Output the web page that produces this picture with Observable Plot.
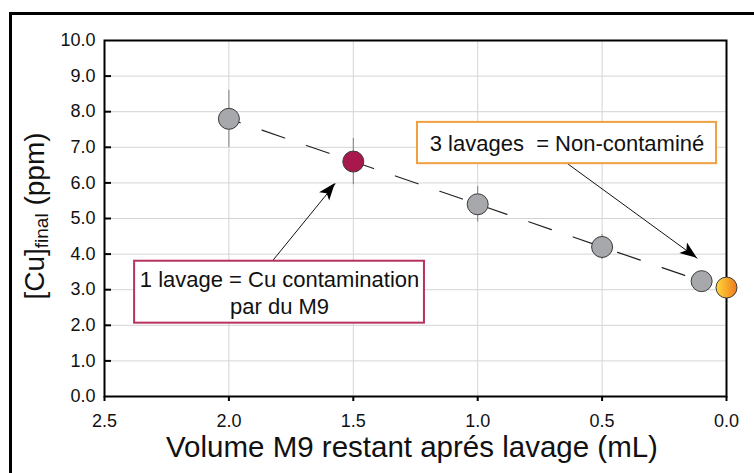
<!DOCTYPE html>
<html><head><meta charset="utf-8">
<script src="https://cdn.jsdelivr.net/npm/d3@7"></script>
<script src="https://cdn.jsdelivr.net/npm/@observablehq/plot@0.6"></script>
<style>
body{margin:0;background:#fff;}
#wrap{position:relative;width:754px;height:473px;overflow:hidden;font-family:"Liberation Sans",Arial,sans-serif;background:#fff;}
#border{position:absolute;left:9px;top:12px;width:900px;height:600px;border-left:3px solid #000;border-top:3px solid #000;}
#wrap svg{position:absolute;left:0;top:0;}
</style></head><body><div id="wrap"><div id="border"></div></div>
<script>
// ---- data ----
const volumes = [2.0, 1.5, 1.0, 0.5, 0.1, 0.0];
const cuFinal = [7.8, 6.6, 5.4, 4.2, 3.24, 3.06];
const errors  = [0.8, 0.65, 0.5, 0.35, 0.15, 0];
const groups  = ["gris", "rouge", "gris", "gris", "gris", "orange"];
const xTicks = [2.5, 2.0, 1.5, 1.0, 0.5, 0.0];
const yTicks = [0, 1, 2, 3, 4, 5, 6, 7, 8, 9, 10];

// annotations (data coordinates)
const annotText   = ["1 lavage = Cu contamination\npar du M9", "3 lavages \u00a0= Non-contaminé"];
const annotColor  = ["#b8325f", "#f0a040"];
const annotBoxX1  = [2.379, 1.242];
const annotBoxX2  = [1.214, 0.040];
const annotBoxY1  = [2.06, 6.54];
const annotBoxY2  = [3.80, 7.70];
const arrowFromX  = [1.826, 0.639];
const arrowFromY  = [3.80, 6.54];
const arrowToX    = [1.572, 0.117];
const arrowToY    = [5.98, 3.88];

const points = volumes.map((v, i) => ({v, cu: cuFinal[i], err: errors[i], g: groups[i]}));
const trend = points.filter(d => d.g !== "orange");
const annots = annotText.map((t, i) => ({
  t, color: annotColor[i],
  x1: annotBoxX1[i], x2: annotBoxX2[i], y1: annotBoxY1[i], y2: annotBoxY2[i],
  cx: (annotBoxX1[i] + annotBoxX2[i]) / 2, cy: (annotBoxY1[i] + annotBoxY2[i]) / 2,
  fx: arrowFromX[i], fy: arrowFromY[i], tx: arrowToX[i], ty: arrowToY[i]
}));

const fillOf = {gris: "#a7a8ab", rouge: "#a8184c", orange: "url(#orangeGrad)"};

const defs = () => {
  const d = d3.create("svg:defs");
  const g = d.append("linearGradient").attr("id", "orangeGrad").attr("x1", "0%").attr("x2", "100%").attr("y1", "0%").attr("y2", "0%");
  g.append("stop").attr("offset", "0%").attr("stop-color", "#ffd83a");
  g.append("stop").attr("offset", "100%").attr("stop-color", "#ef7a1e");
  return d.node();
};

const arrowHeads = (index, scales) => {
  const g = d3.create("svg:g");
  for (const a of annots) {
    const x0 = scales.x(a.fx), y0 = scales.y(a.fy), x1 = scales.x(a.tx), y1 = scales.y(a.ty);
    const ang = Math.atan2(y1 - y0, x1 - x0);
    const L = 17, W = 6.5, N = 4;
    const ux = Math.cos(ang), uy = Math.sin(ang), px = -uy, py = ux;
    const bx = x1 - ux * L, by = y1 - uy * L;
    const nx = x1 - ux * (L - N), ny = y1 - uy * (L - N);
    g.append("path")
      .attr("d", `M${x1},${y1}L${bx + px * W},${by + py * W}L${nx},${ny}L${bx - px * W},${by - py * W}Z`)
      .attr("fill", "black");
  }
  return g.node();
};

const plot = Plot.plot({
  width: 754, height: 473,
  marginLeft: 104, marginRight: 28, marginTop: 40, marginBottom: 77,
  style: {fontFamily: "Liberation Sans, Arial, sans-serif", background: "transparent", color: "#111"},
  x: {domain: [2.5, 0], ticks: xTicks, label: null},
  y: {domain: [0, 10], ticks: yTicks, label: null},
  marks: [
    defs,
    Plot.gridX(xTicks.slice(1, -1), {stroke: "#d4d4d4", strokeOpacity: 1, strokeWidth: 1}),
    Plot.gridY(yTicks.slice(1, -1), {stroke: "#d4d4d4", strokeOpacity: 1, strokeWidth: 1}),
    Plot.axisX(xTicks, {tickSize: 5, tickPadding: 13, fontSize: 18, tickFormat: d => d.toFixed(1), stroke: "#000", strokeWidth: 2}),
    Plot.axisY(yTicks, {tickSize: 0, tickPadding: 9, fontSize: 18, tickFormat: d => d.toFixed(1)}),
    Plot.tickY(yTicks.slice(1, -1), {y: d => d, insetRight: 622 - 7, stroke: "#000", strokeWidth: 2}),
    Plot.frame({stroke: "#000", strokeWidth: 2}),
    Plot.ruleX(points.filter(d => d.err > 0), {x: "v", y1: d => d.cu - d.err, y2: d => d.cu + d.err, stroke: "#808080", strokeWidth: 1}),
    Plot.line(trend, {x: "v", y: "cu", stroke: "#222", strokeWidth: 1.2, strokeDasharray: "24,23", strokeDashoffset: 12}),
    Plot.link(annots, {x1: "fx", y1: "fy", x2: "tx", y2: "ty", stroke: "#111", strokeWidth: 1}),
    arrowHeads,
    Plot.rect(annots, {x1: "x1", x2: "x2", y1: "y1", y2: "y2", fill: "white", stroke: "color", strokeWidth: 2}),
    Plot.text(annots, {x: "cx", y: "cy", text: "t", fontSize: 22, lineHeight: 1.2, fill: "#111"}),
    Plot.dot(points, {x: "v", y: "cu", r: 10.5, fill: d => fillOf[d.g], stroke: "#3a3a3a", strokeWidth: 1})
  ]
});

// axis titles
const svg = d3.select(plot);
svg.append("text")
  .attr("x", 412).attr("y", 457).attr("text-anchor", "middle")
  .attr("font-size", 29.5).attr("fill", "#111")
  .text("Volume M9 restant aprés lavage (mL)");
const yl = svg.append("text")
  .attr("transform", "translate(44,216) rotate(-90)").attr("text-anchor", "middle")
  .attr("font-size", 28).attr("fill", "#111");
yl.append("tspan").text("[Cu]");
yl.append("tspan").attr("font-size", 19).attr("dy", 4).text("final");
yl.append("tspan").attr("dy", -4).text(" (ppm)");

document.getElementById("wrap").appendChild(plot);
</script>
</body></html>
